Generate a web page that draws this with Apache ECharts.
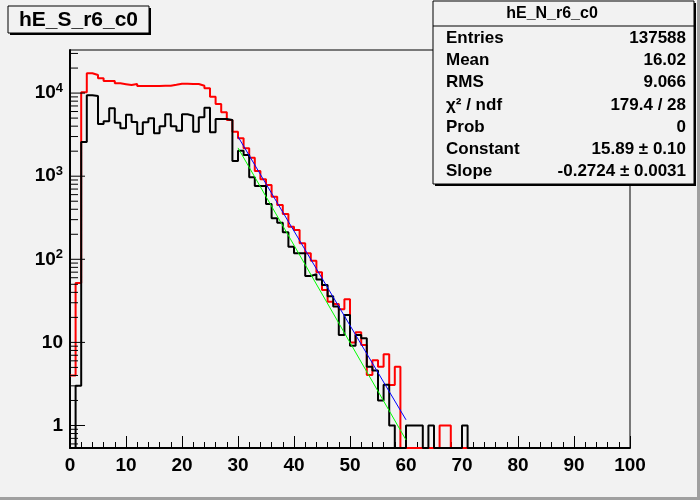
<!DOCTYPE html>
<html><head><meta charset="utf-8">
<script src="https://cdn.jsdelivr.net/npm/echarts@6/dist/echarts.min.js"></script>
<style>html,body{margin:0;padding:0;background:#f2f2f2}#c{width:700px;height:500px}</style>
</head><body><div id="c"></div>
<script>
// ---- data (bin contents, bins of width 1 from 0 to 100) ----
const blackCounts = [
  0, 3, 2580, 9400, 9230, 4250, 4580, 6560, 4400, 3770,
  5500, 4490, 3220, 4450, 4980, 3280, 3990, 5560, 3990, 3530,
  5560, 5350, 3430, 5110, 6670, 3380, 4880, 4880, 4740, 1520,
  2030, 1800, 970, 762, 762, 463, 311, 275, 211, 142,
  118, 118, 63, 66, 57, 49, 36, 27, 12.3, 21.4,
  9.1, 12.3, 11.2, 5.1, 4.6, 2.0, 3.1, 1, 0, 0,
  1, 1, 1, 0, 1, 0, 0, 0, 0, 0,
  1, 0, 0, 0, 0, 0, 0, 0, 0, 0,
  0, 0, 0, 0, 0, 0, 0, 0, 0, 0,
  0, 0, 0, 0, 0, 0, 0, 0, 0, 0
];
const redCounts = [
  4, 52, 10200, 17300, 16500, 15100, 14000, 14000, 13100, 12800,
  12500, 12900, 12200, 12200, 12200, 12200, 12280, 12280, 12620, 12970,
  12970, 12860, 12860, 12280, 11420, 9050, 7390, 5870, 4740, 3430,
  2860, 2170, 1670, 1156, 918, 784, 566, 450, 351, 247,
  225, 156, 118, 96, 70, 42.7, 30.9, 28.9, 25, 33,
  10, 13.2, 9.3, 4.05, 6.1, 5.1, 7.2, 3.07, 5.1, 0,
  0, 0, 0, 0, 0, 0, 1, 1, 0, 0,
  0, 0, 0, 0, 0, 0, 0, 0, 0, 0,
  0, 0, 0, 0, 0, 0, 0, 0, 0, 0,
  0, 0, 0, 0, 0, 0, 0, 0, 0, 0
];
const blueFitX = [30, 60];
const blueFitY = [2990, 1.17];
const greenFitX = [30, 60];
const greenFitY = [2190, 0.67];

const xMin = 0, xMax = 100, xInterval = 10;
const yMin = 0.536, yMax = 33000;
const yMajorTicks = [1, 10, 100, 1000, 10000];
const yMinorTicks = [0.6, 0.7, 0.8, 0.9,
  2, 3, 4, 5, 6, 7, 8, 9,
  20, 30, 40, 50, 60, 70, 80, 90,
  200, 300, 400, 500, 600, 700, 800, 900,
  2000, 3000, 4000, 5000, 6000, 7000, 8000, 9000,
  20000, 30000];

const histTitle = 'hE_S_r6_c0';
const statsTitle = 'hE_N_r6_c0';
const statsLabels = ['Entries', 'Mean', 'RMS', 'χ² / ndf', 'Prob', 'Constant', 'Slope'];
const statsValues = ['137588', '16.02', '9.066', '179.4 / 28', '0', '15.89 ± 0.10', '-0.2724 ± 0.0031'];

// ---- build ----
function histLine(counts) {
  const pts = counts.map((c, i) => [i, c > 0 ? c : yMin]);
  const last = counts[counts.length - 1];
  pts.push([counts.length, last > 0 ? last : yMin]);
  return pts;
}
const FONT = '"Liberation Sans", Arial, Helvetica, sans-serif';

const yTickData = yMajorTicks.map(v => [0, v, 1]).concat(yMinorTicks.map(v => [0, v, 0]));

const chart = echarts.init(document.getElementById('c'), null, {renderer: 'canvas'});

const statsGraphics = [];
const sx = 433, sy = 1, sw = 261, sh = 183;
statsGraphics.push({type: 'rect', shape: {x: sx + 2, y: sy + 2, width: sw, height: sh}, style: {fill: '#000'}, z: 100});
statsGraphics.push({type: 'rect', shape: {x: sx, y: sy, width: sw, height: sh}, style: {fill: '#f2f2f2', stroke: '#000', lineWidth: 1}, z: 101});
statsGraphics.push({type: 'line', shape: {x1: sx, y1: 26, x2: sx + sw, y2: 26}, style: {stroke: '#000', lineWidth: 1}, z: 102});
statsGraphics.push({type: 'text', x: 552, y: 14, style: {text: statsTitle, font: 'bold 16px ' + FONT, fill: '#000', align: 'center', verticalAlign: 'middle'}, z: 102});
statsLabels.forEach((l, i) => {
  const yy = 38 + i * 22.3;
  statsGraphics.push({type: 'text', x: 446, y: yy, style: {text: l, font: 'bold 17px ' + FONT, fill: '#000', align: 'left', verticalAlign: 'middle'}, z: 102});
  statsGraphics.push({type: 'text', x: 686, y: yy, style: {text: statsValues[i], font: 'bold 17px ' + FONT, fill: '#000', align: 'right', verticalAlign: 'middle'}, z: 102});
});

const option = {
  backgroundColor: '#f2f2f2',
  animation: false,
  grid: {left: 70, right: 70, top: 50, bottom: 52, show: true, borderColor: '#000', borderWidth: 1, backgroundColor: 'transparent'},
  xAxis: {
    type: 'value', min: xMin, max: xMax, interval: xInterval,
    axisLine: {show: true, onZero: false, lineStyle: {color: '#000', width: 2}},
    axisTick: {show: true, inside: true, length: 12, lineStyle: {color: '#000', width: 1}},
    minorTick: {show: true, splitNumber: 5, length: 6, lineStyle: {color: '#000', width: 1}},
    splitLine: {show: false},
    axisLabel: {color: '#000', fontFamily: FONT, fontWeight: 'bold', fontSize: 19, margin: 8}
  },
  yAxis: {
    type: 'log', logBase: 10, min: yMin, max: yMax,
    axisLine: {show: true, lineStyle: {color: '#000', width: 2}},
    axisTick: {show: false},
    splitLine: {show: false},
    axisLabel: {
      margin: 7, color: '#000',
      formatter: function (v) {
        const e = Math.log10(v);
        const r = Math.round(e);
        if (Math.abs(e - r) > 1e-6) return '';
        if (r === 0) return '{b|1}';
        if (r === 1) return '{b|10}';
        return '{b|10}{s|' + r + '}';
      },
      rich: {
        b: {fontFamily: FONT, fontWeight: 'bold', fontSize: 19, lineHeight: 22, color: '#000'},
        s: {fontFamily: FONT, fontWeight: 'bold', fontSize: 13, lineHeight: 22, verticalAlign: 'top', color: '#000'}
      }
    }
  },
  series: [
    {type: 'line', name: 'red', data: histLine(redCounts), step: 'end', symbol: 'none',
     lineStyle: {color: '#ff0000', width: 2}, clip: true, z: 3},
    {type: 'line', name: 'black', data: histLine(blackCounts), step: 'end', symbol: 'none',
     lineStyle: {color: '#000000', width: 2}, clip: true, z: 4},
    {type: 'line', name: 'blueFit', data: blueFitX.map((x, i) => [x, blueFitY[i]]), symbol: 'none',
     lineStyle: {color: '#0000ff', width: 1}, z: 5},
    {type: 'line', name: 'greenFit', data: greenFitX.map((x, i) => [x, greenFitY[i]]), symbol: 'none',
     lineStyle: {color: '#00ff00', width: 1}, z: 5},
    {type: 'custom', name: 'yticks', data: yTickData, silent: true, clip: false, z: 6,
     renderItem: function (params, api) {
       const p = api.coord([xMin, api.value(1)]);
       const len = api.value(2) ? 15 : 8;
       return {type: 'line', shape: {x1: p[0], y1: p[1], x2: p[0] + len, y2: p[1]}, style: {stroke: '#000', lineWidth: 1}};
     }}
  ],
  graphic: [
    {type: 'rect', shape: {x: 0, y: 497, width: 700, height: 3}, style: {fill: '#a0a0a0'}, z: 90},
    {type: 'rect', shape: {x: 697, y: 0, width: 3, height: 500}, style: {fill: '#a0a0a0'}, z: 90},
    {type: 'rect', shape: {x: 10, y: 8, width: 141, height: 27}, style: {fill: '#000'}, z: 100},
    {type: 'rect', shape: {x: 8, y: 6, width: 141, height: 27}, style: {fill: '#f2f2f2', stroke: '#000', lineWidth: 1}, z: 101},
    {type: 'text', x: 78.5, y: 20, style: {text: histTitle, font: 'bold 21px ' + FONT, fill: '#000', align: 'center', verticalAlign: 'middle'}, z: 102}
  ].concat(statsGraphics)
};
chart.setOption(option);
</script>
</body></html>
